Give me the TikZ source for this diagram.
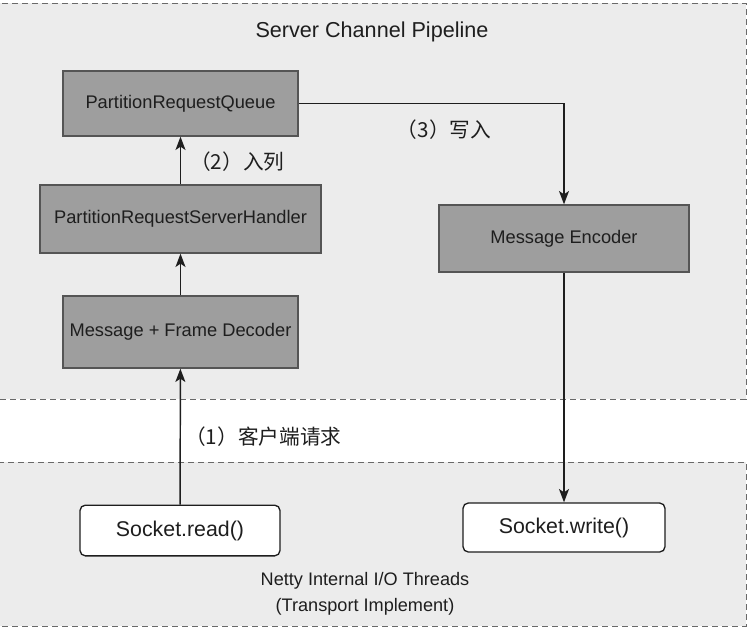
\documentclass[tikz,border=0pt]{standalone}
\usepackage{fontspec}
\setmainfont{Liberation Sans}
\newfontfamily\cjk{Noto Sans CJK SC}
\usetikzlibrary{arrows.meta}
\definecolor{boxgray}{RGB}{158,158,158}
\definecolor{bggray}{RGB}{236,236,236}
\definecolor{edgegray}{RGB}{85,85,85}
\definecolor{dashgray}{RGB}{105,105,105}
\definecolor{inkgray}{RGB}{30,30,30}
\tikzset{
  stage/.style={draw=edgegray, line width=1pt, fill=boxgray, text=inkgray,
    inner sep=0pt, font=\fontsize{13.7}{16}\selectfont},
  sock/.style={draw=inkgray, line width=1pt, fill=white, rounded corners=4pt,
    text=inkgray, inner sep=0pt, minimum height=38pt, font=\fontsize{16}{19}\selectfont},
  zone/.style={draw=dashgray, line width=0.7pt, dash pattern=on 4.5pt off 3pt},
  flow/.style={-{Stealth[length=10pt,width=7.5pt,inset=2.5pt]}, line width=1.1pt, draw=inkgray},
  step label/.style={text=inkgray, inner sep=0pt, font=\cjk\fontsize{15.5}{18}\selectfont}
}
\begin{document}
\begin{tikzpicture}[x=0.75pt, y=-0.75pt]
    \useasboundingbox (0,0) rectangle (750,633);
    % zones, left edge cut off
    \filldraw[zone, fill=bggray] (-4,3) rectangle (746,399);
    \filldraw[zone, fill=bggray] (-4,462) rectangle (746,626);
    \node[text=inkgray, font=\fontsize{16.2}{19}\selectfont] (title) at (372,32) {Server Channel Pipeline};
    % pipeline stages
    \node[stage, minimum width=176.25pt, minimum height=48.75pt] (queue) at (180.5,103.5) {PartitionRequestQueue};
    \node[stage, minimum width=210.75pt, minimum height=51pt] (handler) at (180.5,219) {PartitionRequestServerHandler};
    \node[stage, minimum width=176.25pt, minimum height=54pt] (decoder) at (180.5,332) {Message + Frame Decoder};
    \node[stage, minimum width=187.5pt, minimum height=50.25pt] (encoder) at (564,238.5) {Message Encoder};
    % sockets
    \node[sock, minimum width=150pt] (read) at (180,530.5) {Socket.read()};
    \node[sock, minimum width=151.5pt, minimum height=36.75pt] (write) at (564,527.5) {Socket.write()};
    \node[text=inkgray, align=center, font=\fontsize{13.6}{19.5}\selectfont] (threads) at (365,594)
        {Netty Internal I/O Threads\\(Transport Implement)};
    % arrows
    \draw[flow] (read) -- (decoder);
    \draw[flow] (decoder) -- (handler);
    \draw[flow] (handler) -- (queue);
    \draw[flow] (queue.east) -| (encoder.north);
    \draw[flow] (encoder) -- (write);
    \node[step label, anchor=west] (s1) at (185,437) {（1）客户端请求};
    \node[step label, anchor=west] (s2) at (190,162) {（2）入列};
    \node[step label] (s3) at (444,130) {（3）写入};
\end{tikzpicture}
\end{document}
